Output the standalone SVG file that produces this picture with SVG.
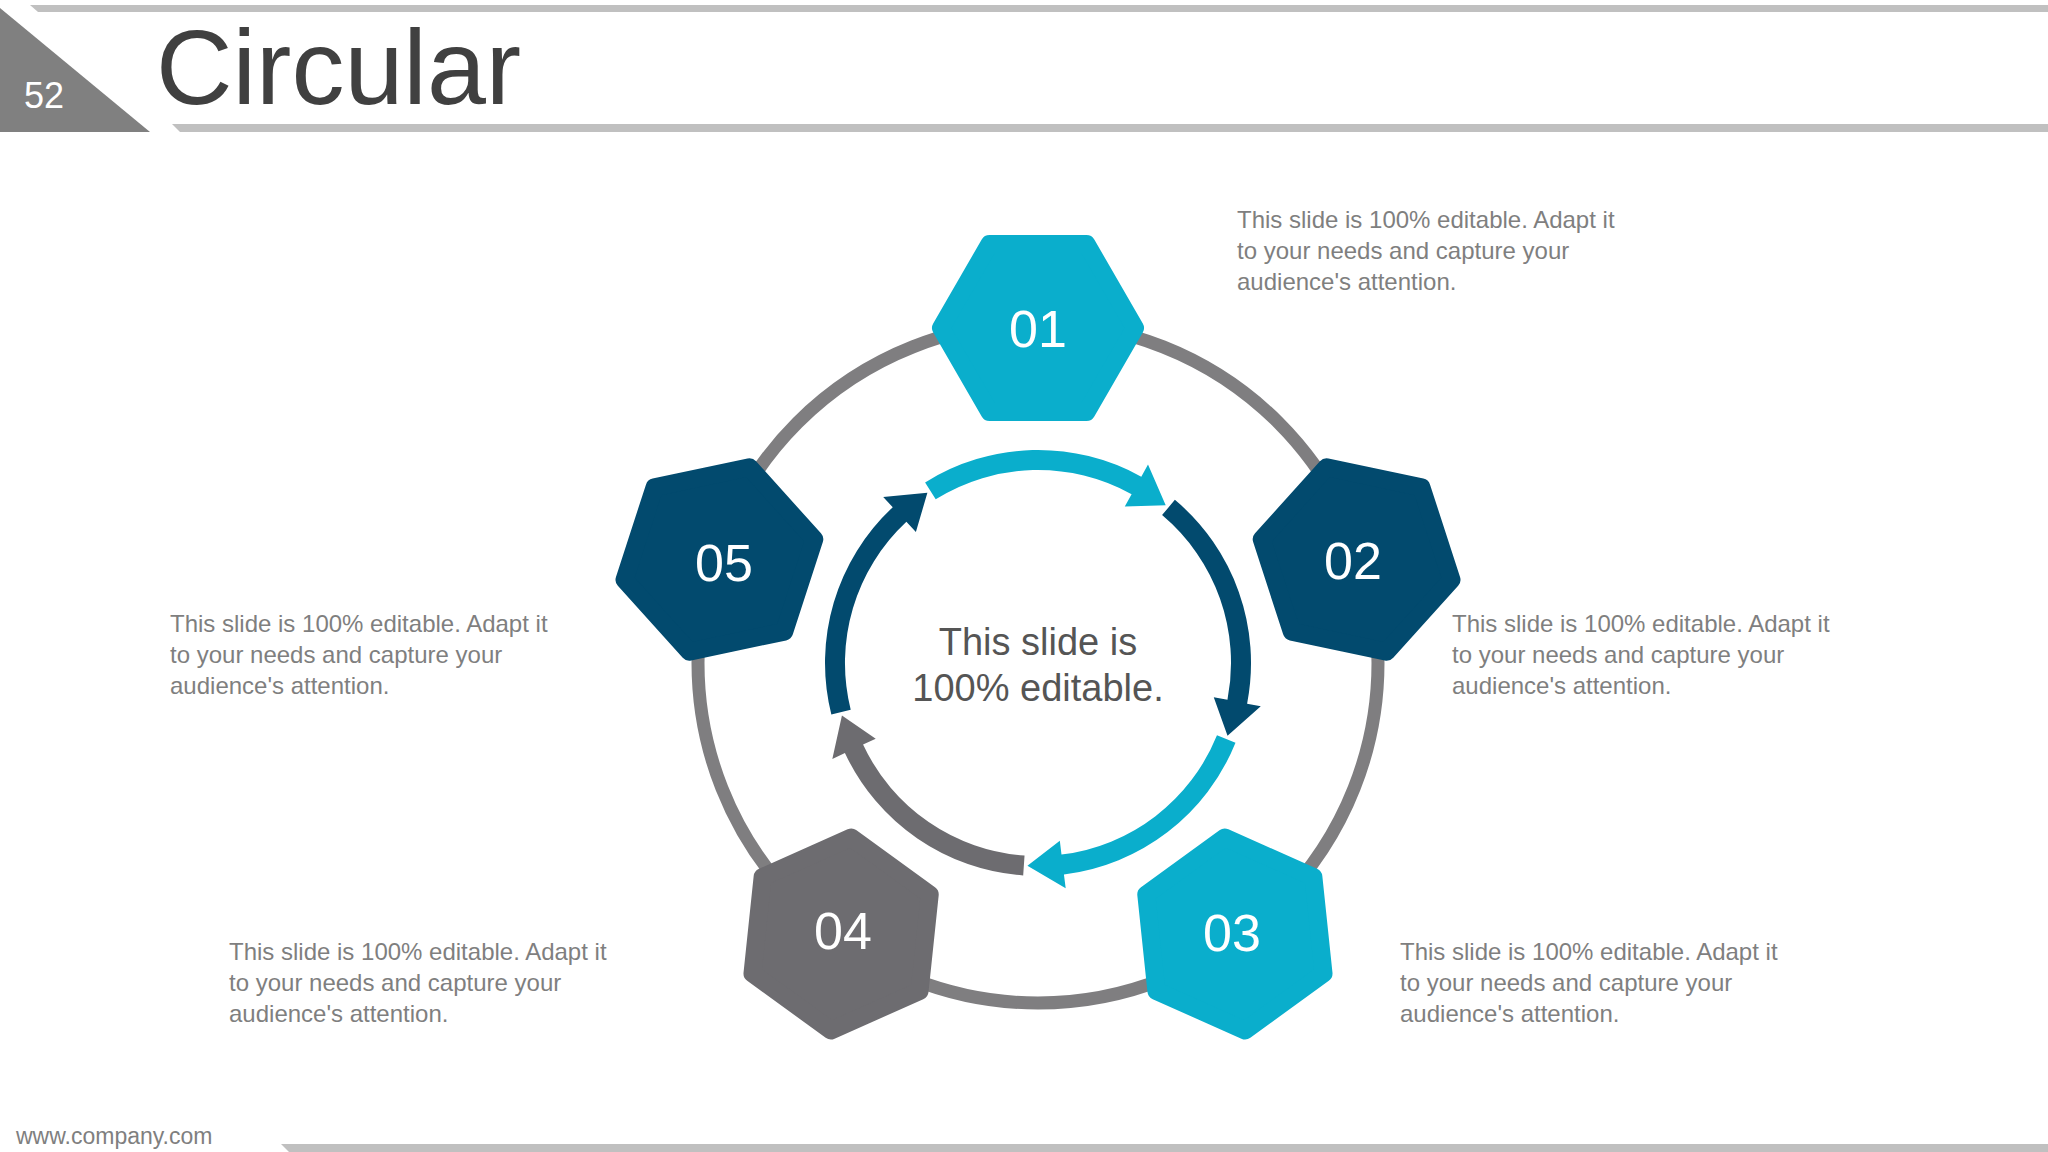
<svg xmlns="http://www.w3.org/2000/svg" width="2048" height="1152" viewBox="0 0 2048 1152">
<style>
text{font-family:"Liberation Sans",Arial,sans-serif}
.num{fill:#fff;font-size:52px;text-anchor:middle}
.desc{fill:#7f7f7f;font-size:24px}
.hex{stroke-linejoin:round;stroke-width:18}
</style>
<defs>
<path id="hx" d="M97,0 L48.5,84 L-48.5,84 L-97,0 L-48.5,-84 L48.5,-84 Z"/>
<path id="arr" d="M925.1,482.4 A213,213 0 0 1 1141.3,476.7 L1148,464.5 L1165.7,505.2 L1124.8,506.4 L1131.6,494.2 A193,193 0 0 0 935.7,499.3 Z"/>
</defs>
<rect width="2048" height="1152" fill="#fff"/>
<g id="header">
<polygon points="0,8 0,132 150,132" fill="#808080"/>
<polygon points="30,5 2048,5 2048,12 38,12" fill="#c0c0c0"/>
<polygon points="172,124 2048,124 2048,132 180,132" fill="#c0c0c0"/>
<text x="24" y="108" font-size="36" fill="#fff">52</text>
<text x="156" y="104" font-size="106" fill="#404040">Circular</text>
</g>
<circle cx="1038" cy="663" r="340" fill="none" stroke="#7f7e80" stroke-width="13"/>
<g id="connectors">
<use href="#arr" fill="#0aaecc"/>
<use href="#arr" fill="#024a6e" transform="rotate(72 1038 663)"/>
<use href="#arr" fill="#0aaecc" transform="rotate(144 1038 663)"/>
<use href="#arr" fill="#6d6c70" transform="rotate(216 1038 663)"/>
<use href="#arr" fill="#024a6e" transform="rotate(288 1038 663)"/>
</g>
<g id="center"><text x="1038" y="655" font-size="38" fill="#555" text-anchor="middle">This slide is</text><text x="1038" y="701" font-size="38" fill="#555" text-anchor="middle">100% editable.</text></g>
<g id="n01"><use href="#hx" class="hex" fill="#0aaecc" stroke="#0aaecc" transform="translate(1038,328)"/><text class="num" x="1038" y="347">01</text></g>
<g id="n02"><use href="#hx" class="hex" fill="#024a6e" stroke="#024a6e" transform="translate(1356.6,559.5) rotate(72)"/><text class="num" x="1353" y="579">02</text></g>
<g id="n03"><use href="#hx" class="hex" fill="#0aaecc" stroke="#0aaecc" transform="translate(1234.9,934) rotate(144)"/><text class="num" x="1232" y="951">03</text></g>
<g id="n04"><use href="#hx" class="hex" fill="#6d6c70" stroke="#6d6c70" transform="translate(841.1,934) rotate(216)"/><text class="num" x="843" y="949">04</text></g>
<g id="n05"><use href="#hx" class="hex" fill="#024a6e" stroke="#024a6e" transform="translate(719.4,559.5) rotate(288)"/><text class="num" x="724" y="581">05</text></g>
<g id="t01" class="desc"><text class="desc" x="1237" y="228">This slide is 100% editable. Adapt it</text><text class="desc" x="1237" y="259">to your needs and capture your</text><text class="desc" x="1237" y="290">audience's attention.</text></g>
<g id="t02"><text class="desc" x="1452" y="632">This slide is 100% editable. Adapt it</text><text class="desc" x="1452" y="663">to your needs and capture your</text><text class="desc" x="1452" y="694">audience's attention.</text></g>
<g id="t05"><text class="desc" x="170" y="632">This slide is 100% editable. Adapt it</text><text class="desc" x="170" y="663">to your needs and capture your</text><text class="desc" x="170" y="694">audience's attention.</text></g>
<g id="t04"><text class="desc" x="229" y="960">This slide is 100% editable. Adapt it</text><text class="desc" x="229" y="991">to your needs and capture your</text><text class="desc" x="229" y="1022">audience's attention.</text></g>
<g id="t03"><text class="desc" x="1400" y="960">This slide is 100% editable. Adapt it</text><text class="desc" x="1400" y="991">to your needs and capture your</text><text class="desc" x="1400" y="1022">audience's attention.</text></g>
<g id="footer"><text x="16" y="1144" font-size="23" fill="#7f7f7f">www.company.com</text><polygon points="281,1144 2048,1144 2048,1152 289,1152" fill="#c0c0c0"/></g>
</svg>
